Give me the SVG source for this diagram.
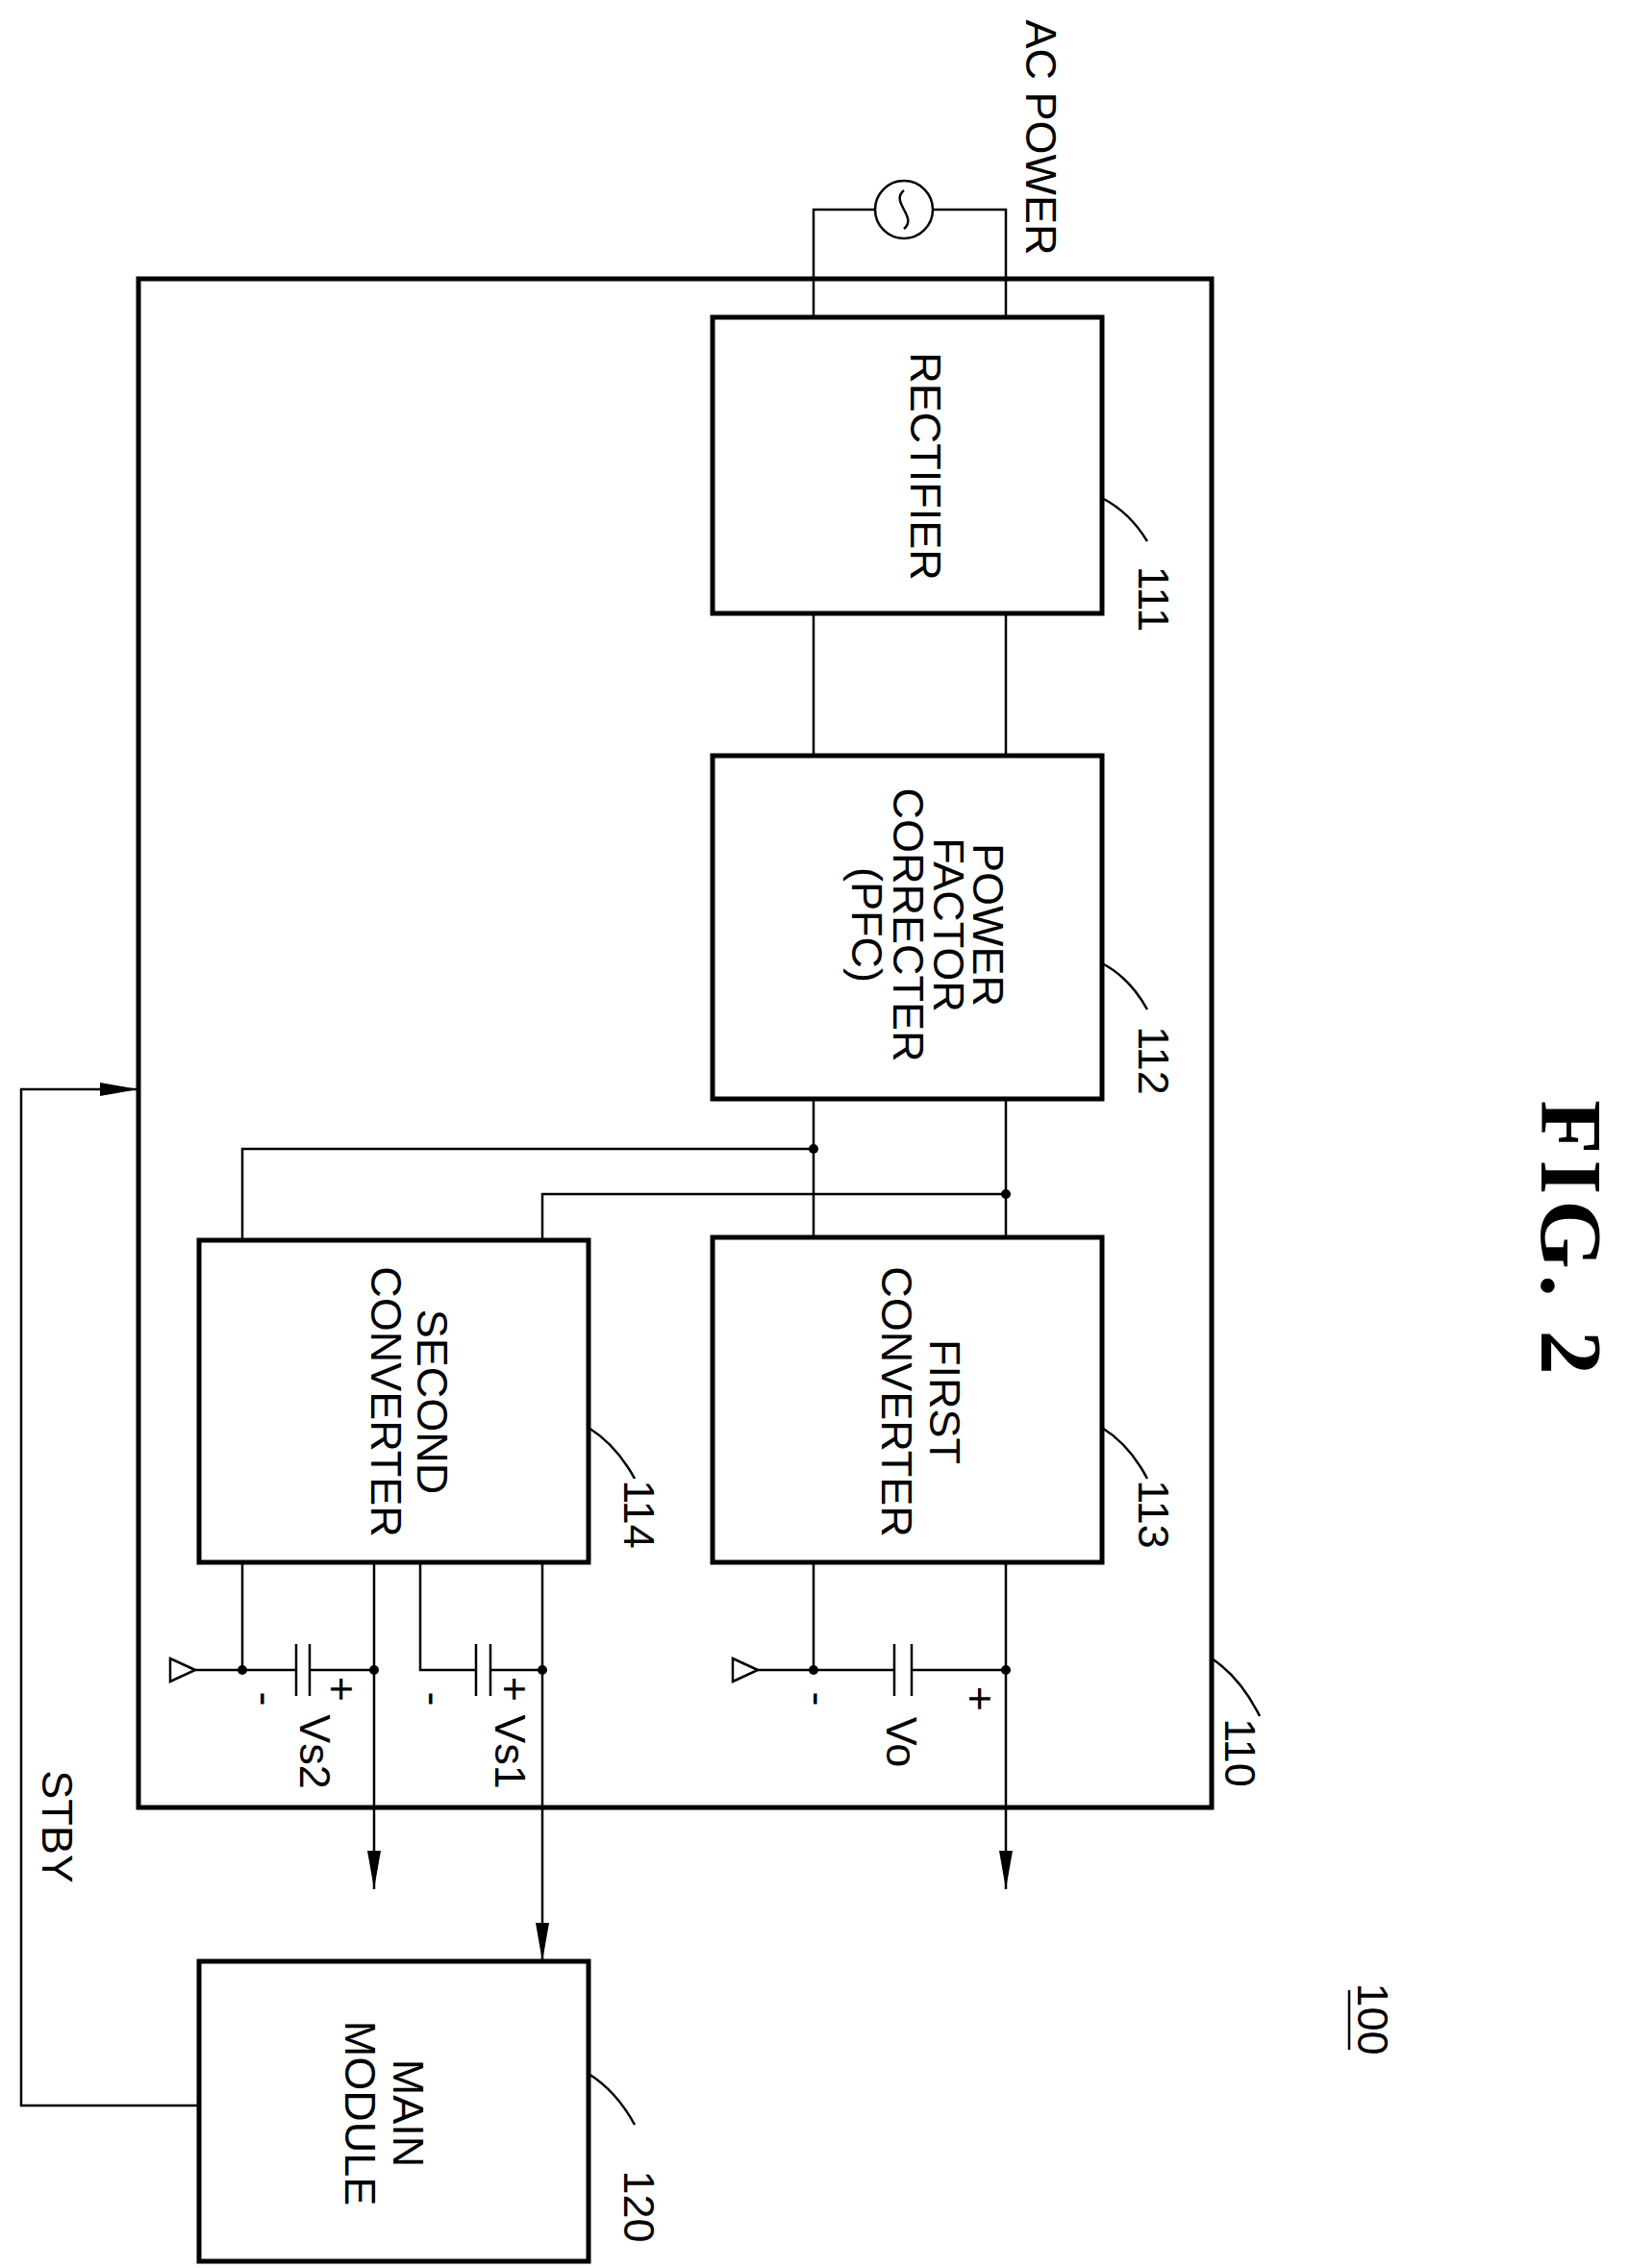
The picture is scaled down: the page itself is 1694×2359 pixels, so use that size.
<svg xmlns="http://www.w3.org/2000/svg" width="1694" height="2359" viewBox="0 0 1694 2359">
<style>
.box{fill:none;stroke:#000;stroke-width:5}
.w{fill:none;stroke:#000;stroke-width:2.5}
.t{font-family:"Liberation Sans",Arial,sans-serif;font-size:45px;text-anchor:middle}
.f{font-family:"Liberation Serif",serif;font-size:92px;font-weight:bold;text-anchor:middle;letter-spacing:6px}
.d{fill:#000}
</style>
<defs>
<marker id="av" viewBox="0 0 40 14" refX="40" refY="7" markerWidth="40" markerHeight="14" markerUnits="userSpaceOnUse" orient="auto"><path d="M0,0 L40,7 L0,14 Z" fill="#000"/></marker>
</defs>
<rect width="1694" height="2359" fill="#fff"/>
<g id="n110"><rect class="box" x="144" y="290" width="1116" height="1590"/><path class="w" d="M1260,1725 Q1290,1745 1310,1785"/><text class="t" transform="translate(1290,1823) rotate(90)" dy="0.35em">110</text></g>
<g id="n111"><rect class="box" x="741" y="330" width="405" height="308"/><text class="t" transform="translate(963,485) rotate(90)" dy="0.35em">RECTIFIER</text><path class="w" d="M1146,518 Q1175,533 1193,563"/><text class="t" transform="translate(1200,623) rotate(90)" dy="0.35em">111</text></g>
<g id="n112"><rect class="box" x="741" y="786" width="405" height="357"/>
<text class="t" transform="translate(1028,962) rotate(90)" dy="0.35em">POWER</text>
<text class="t" transform="translate(987,962) rotate(90)" dy="0.35em">FACTOR</text>
<text class="t" transform="translate(945,962) rotate(90)" dy="0.35em">CORRECTER</text>
<text class="t" transform="translate(902,962) rotate(90)" dy="0.35em">(PFC)</text>
<path class="w" d="M1146,1002 Q1175,1017 1193,1050"/><text class="t" transform="translate(1200,1103) rotate(90)" dy="0.35em">112</text></g>
<g id="n113"><rect class="box" x="741" y="1287" width="405" height="338"/>
<text class="t" transform="translate(983,1458) rotate(90)" dy="0.35em">FIRST</text>
<text class="t" transform="translate(933,1458) rotate(90)" dy="0.35em">CONVERTER</text>
<path class="w" d="M1146,1485 Q1175,1503 1193,1538"/><text class="t" transform="translate(1200,1575) rotate(90)" dy="0.35em">113</text></g>
<g id="n114"><rect class="box" x="207" y="1290" width="405" height="335"/>
<text class="t" transform="translate(450,1458) rotate(90)" dy="0.35em">SECOND</text>
<text class="t" transform="translate(402,1458) rotate(90)" dy="0.35em">CONVERTER</text>
<path class="w" d="M612,1485 Q641,1503 660,1538"/><text class="t" transform="translate(665,1575) rotate(90)" dy="0.35em">114</text></g>
<g id="n120"><rect class="box" x="207" y="2040" width="405" height="312"/>
<text class="t" transform="translate(425,2198) rotate(90)" dy="0.35em">MAIN</text>
<text class="t" transform="translate(375,2198) rotate(90)" dy="0.35em">MODULE</text>
<path class="w" d="M612,2157 Q641,2175 660,2210"/><text class="t" transform="translate(665,2295) rotate(90)" dy="0.35em">120</text></g>
<g id="ac"><circle class="w" cx="940" cy="218" r="30"/><path class="w" d="M940,198 C925,210 955,226 940,238"/>
<text class="t" transform="translate(1083,143) rotate(90)" dy="0.35em">AC POWER</text></g>
<g id="connectors">
<path class="w" d="M846,330 V218 H910 M970,218 H1046 V330"/>
<path class="w" d="M846,638 V786 M1046,638 V786"/>
<path class="w" d="M846,1143 V1287 M1046,1143 V1287"/>
<path class="w" d="M846,1195 H252 V1290 M1046,1242 H564 V1290"/>
<circle class="d" cx="846" cy="1195" r="5"/><circle class="d" cx="1046" cy="1242" r="5"/>
<path class="w" d="M846,1625 V1737 H788 M846,1737 H930 M948,1737 H1046"/>
<path class="w" d="M1046,1625 V1965" marker-end="url(#av)"/>
<path class="w" d="M930,1710 V1764 M948,1710 V1764"/>
<path class="w" d="M788,1737 L762,1725 V1749 Z"/>
<circle class="d" cx="846" cy="1737" r="5"/><circle class="d" cx="1046" cy="1737" r="5"/>
<path class="w" d="M252,1625 V1737 H203 M252,1737 H308 M322,1737 H389"/>
<path class="w" d="M389,1625 V1965" marker-end="url(#av)"/>
<path class="w" d="M308,1710 V1764 M322,1710 V1764"/>
<path class="w" d="M203,1737 L177,1725 V1749 Z"/>
<path class="w" d="M437,1625 V1737 H495 M510,1737 H564"/>
<path class="w" d="M495,1710 V1764 M510,1710 V1764"/>
<path class="w" d="M564,1625 V2040" marker-end="url(#av)"/>
<circle class="d" cx="252" cy="1737" r="5"/><circle class="d" cx="389" cy="1737" r="5"/><circle class="d" cx="564" cy="1737" r="5"/>
<path class="w" d="M207,2190 H22 V1133 H144" marker-end="url(#av)"/>
</g>
<g id="labels">
<text class="t" transform="translate(1020,1767) rotate(90)" dy="0.35em">+</text>
<text class="t" transform="translate(852,1767) rotate(90)" dy="0.35em">-</text>
<text class="t" transform="translate(938,1812) rotate(90)" dy="0.35em">Vo</text>
<text class="t" transform="translate(536,1757) rotate(90)" dy="0.35em">+</text>
<text class="t" transform="translate(452,1767) rotate(90)" dy="0.35em">-</text>
<text class="t" transform="translate(531,1822) rotate(90)" dy="0.35em">Vs1</text>
<text class="t" transform="translate(356,1757) rotate(90)" dy="0.35em">+</text>
<text class="t" transform="translate(277,1767) rotate(90)" dy="0.35em">-</text>
<text class="t" transform="translate(328,1822) rotate(90)" dy="0.35em">Vs2</text>
<text class="t" transform="translate(60,1900) rotate(90)" dy="0.35em">STBY</text>
<text class="t" transform="translate(1428,2100) rotate(90)" dy="0.35em">100</text>
<line class="w" x1="1403" y1="2070" x2="1403" y2="2132"/>
<text class="f" transform="translate(1635,1290) rotate(90)" dy="0.35em">FIG. 2</text>
</g>
</svg>
